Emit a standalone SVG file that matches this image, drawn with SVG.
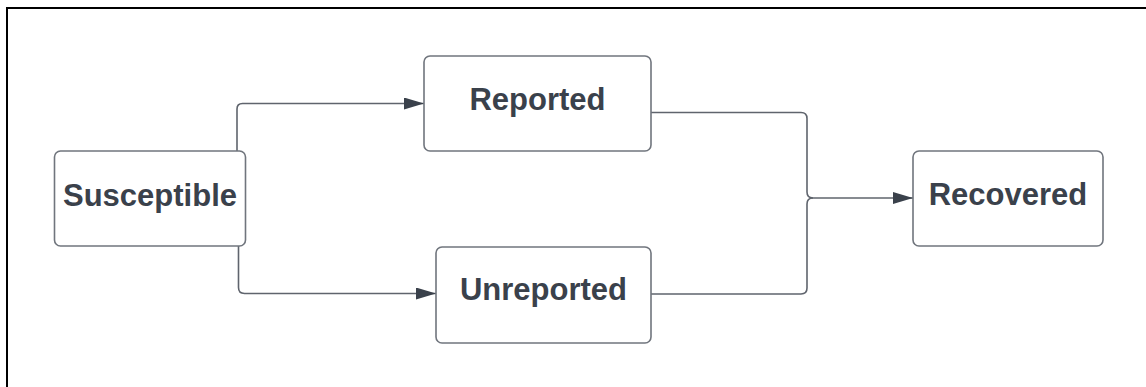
<svg xmlns="http://www.w3.org/2000/svg" width="1146" height="387" viewBox="0 0 1146 387">
  <style>
    .box { fill: #ffffff; stroke: #70757d; stroke-width: 1.6; }
    .label { font-family: "Liberation Sans", Arial, sans-serif; font-weight: bold; font-size: 31px; fill: #3a414b; text-anchor: middle; }
    .wire { fill: none; stroke: #5f646d; stroke-width: 1.6; }
  </style>
  <defs>
    <marker id="head" markerWidth="20" markerHeight="12" refX="20" refY="6" orient="auto" markerUnits="userSpaceOnUse">
      <path d="M0,0 L20,6 L0,12 Z" fill="#3a414b"/>
    </marker>
  </defs>

  <rect width="1146" height="387" fill="#ffffff"/>
  <!-- outer frame -->
  <rect x="7" y="8" width="1160" height="400" fill="none" stroke="#000000" stroke-width="2"/>

  <g id="connectors">
    <path class="wire" d="M237,151 V109 Q237,103.5 242.5,103.5 H424" marker-end="url(#head)"/>
    <path class="wire" d="M238.5,246 V287.5 Q238.5,293.5 244.5,293.5 H436" marker-end="url(#head)"/>
    <path class="wire" d="M651,112.5 H801 Q807,112.5 807,118.5 V192 Q807,198 813,198"/>
    <path class="wire" d="M651,294 H801 Q807,294 807,288 V204 Q807,198 813,198"/>
    <path class="wire" d="M813,198 H913" marker-end="url(#head)"/>
  </g>

  <g id="susceptible">
    <rect class="box" x="54.5" y="151" width="191" height="95" rx="6"/>
    <text class="label" x="150" y="206">Susceptible</text>
  </g>
  <g id="reported">
    <rect class="box" x="424" y="56" width="227" height="95" rx="6"/>
    <text class="label" x="537.5" y="110">Reported</text>
  </g>
  <g id="unreported">
    <rect class="box" x="436" y="247" width="215" height="96" rx="6"/>
    <text class="label" x="543.5" y="300">Unreported</text>
  </g>
  <g id="recovered">
    <rect class="box" x="913" y="151" width="190" height="95" rx="6"/>
    <text class="label" x="1008" y="205">Recovered</text>
  </g>
</svg>
